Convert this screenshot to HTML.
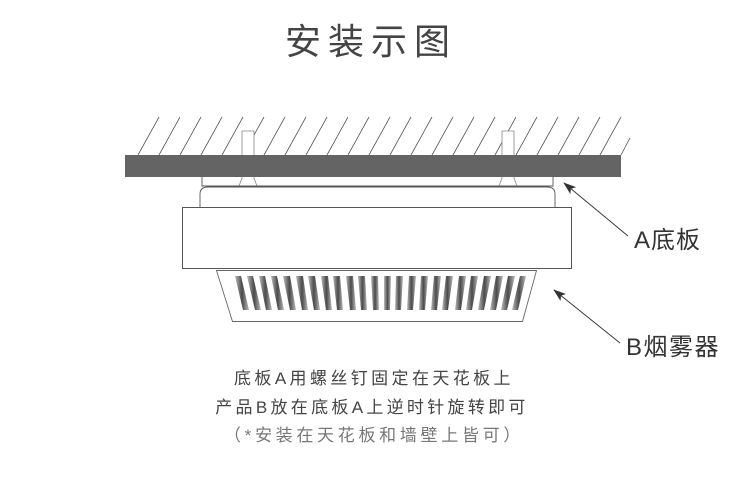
<!DOCTYPE html>
<html><head><meta charset="utf-8"><style>
html,body{margin:0;padding:0;background:#fff;}
body{width:750px;height:499px;overflow:hidden;position:relative;}
svg{position:absolute;left:0;top:0;}
text{font-family:"Liberation Sans","Noto Sans CJK SC",sans-serif;}
</style></head><body>
<svg width="750" height="499" viewBox="0 0 750 499">
<defs>
<marker id="ar" markerWidth="13" markerHeight="9" refX="12" refY="4.5" orient="auto" markerUnits="userSpaceOnUse">
<path d="M13,4.5 L0,0 L3,4.5 L0,9 Z" fill="#333"/>
</marker>
<linearGradient id="sg" x1="0" x2="1">
<stop offset="0" stop-color="#bbb"/><stop offset="0.5" stop-color="#4a4a4a"/><stop offset="1" stop-color="#bbb"/>
</linearGradient>
</defs>
<text x="371" y="54" font-size="36" fill="#444" text-anchor="middle" letter-spacing="7">安装示图</text>
<g stroke="#555" stroke-width="0.8">
<line x1="138" y1="155" x2="159" y2="117"/><line x1="159" y1="155" x2="180" y2="117"/><line x1="180" y1="155" x2="201" y2="117"/><line x1="201" y1="155" x2="222" y2="117"/><line x1="222" y1="155" x2="243" y2="117"/><line x1="243" y1="155" x2="264" y2="117"/><line x1="264" y1="155" x2="285" y2="117"/><line x1="285" y1="155" x2="306" y2="117"/><line x1="306" y1="155" x2="327" y2="117"/><line x1="327" y1="155" x2="348" y2="117"/><line x1="348" y1="155" x2="369" y2="117"/><line x1="369" y1="155" x2="390" y2="117"/><line x1="390" y1="155" x2="411" y2="117"/><line x1="411" y1="155" x2="432" y2="117"/><line x1="432" y1="155" x2="453" y2="117"/><line x1="453" y1="155" x2="474" y2="117"/><line x1="474" y1="155" x2="495" y2="117"/><line x1="495" y1="155" x2="516" y2="117"/><line x1="516" y1="155" x2="537" y2="117"/><line x1="537" y1="155" x2="558" y2="117"/><line x1="558" y1="155" x2="579" y2="117"/><line x1="579" y1="155" x2="600" y2="117"/><line x1="600" y1="155" x2="621" y2="117"/><line x1="621" y1="155" x2="630" y2="138"/>
</g>
<g fill="#fff" stroke="#888" stroke-width="0.8">
<path d="M242,131 H254 V178 L257,186 H239 L242,178 Z"/>
<path d="M502,131 H514 V178 L517,186 H499 L502,178 Z"/>
</g>
<rect x="125" y="155" width="496" height="22" fill="#646464"/>
<g fill="none" stroke="#555" stroke-width="0.9">
<path d="M202,177 V186 H553 V177"/>
<path d="M200,207 V194 Q200,187 208,187 H547 Q555,187 555,194 V207"/>
</g>
<rect x="182.5" y="207.5" width="389" height="61" fill="#fff" stroke="#555" stroke-width="1"/>
<path d="M216.5,270.5 H536.5 L522.5,321.5 H232.5 Z" fill="#fff" stroke="#666" stroke-width="0.9"/>
<g fill="url(#sg)">
<path d="M235,276h6l8,34h-6z"/><path d="M247,276h6l8,34h-6z"/><path d="M259,276h6l7,34h-6z"/><path d="M271,276h6l7,34h-6z"/><path d="M283,276h7l6,34h-6z"/><path d="M296,276h7l5,34h-6z"/><path d="M308,276h7l5,34h-6z"/><path d="M321,276h7l4,34h-6z"/><path d="M333,276h7l3,34h-6z"/><path d="M346,276h7l3,34h-6z"/><path d="M358,276h7l2,34h-6z"/><path d="M371,276h7l1,34h-6z"/><path d="M384,276h7l-1,34h-6z"/><path d="M396,276h7l-2,34h-6z"/><path d="M409,276h7l-3,34h-6z"/><path d="M421,276h7l-3,34h-6z"/><path d="M434,276h7l-4,34h-6z"/><path d="M446,276h7l-5,34h-6z"/><path d="M459,276h7l-5,34h-6z"/><path d="M471,276h7l-6,34h-6z"/><path d="M484,276h7l-7,34h-6z"/><path d="M496,276h7l-7,34h-6z"/><path d="M508,276h7l-8,34h-6z"/><path d="M520,276h6l-8,34h-6z"/>
</g>
<line x1="628" y1="236" x2="564" y2="183" stroke="#333" stroke-width="0.9" marker-end="url(#ar)"/>
<line x1="620" y1="343" x2="554" y2="290" stroke="#333" stroke-width="0.9" marker-end="url(#ar)"/>
<text x="634" y="248" font-size="24" fill="#333" letter-spacing="1">A底板</text>
<text x="626" y="355" font-size="24" fill="#333" letter-spacing="1.5">B烟雾器</text>
<text x="374" y="384" font-size="17" fill="#444" text-anchor="middle" letter-spacing="3.4">底板A用螺丝钉固定在天花板上</text>
<text x="372" y="413" font-size="17" fill="#444" text-anchor="middle" letter-spacing="3.3">产品B放在底板A上逆时针旋转即可</text>
<text x="374" y="441" font-size="17" fill="#777" text-anchor="middle" letter-spacing="3.7">（*安装在天花板和墙壁上皆可）</text>
</svg>
</body></html>
